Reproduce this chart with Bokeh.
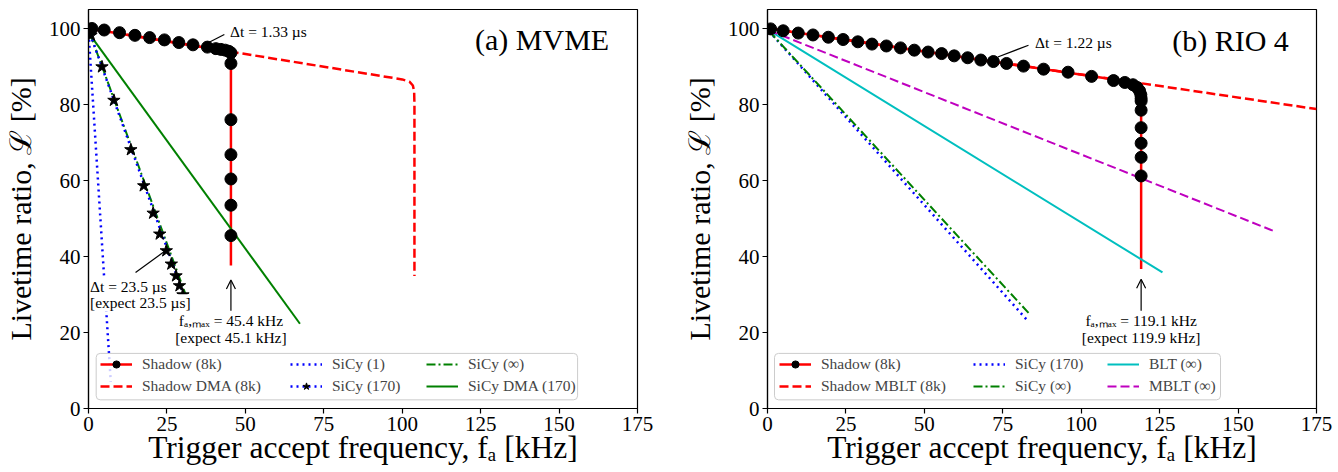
from bokeh.plotting import figure
from bokeh.layouts import row
from bokeh.models import (Legend, LegendItem, Label, Arrow, OpenHead, Range1d,
                          FixedTicker, BoxAnnotation)
from bokeh.embed import file_html
from bokeh.resources import INLINE

FONT = "Liberation Serif"

# ---------------- Panel (a) MVME ----------------
a_shadow_x = [1.1, 5.0, 9.9, 14.8, 19.5, 24.2, 28.8, 33.3, 37.9, 40.6, 42.2, 43.6,
              44.7, 45.4, 45.4, 45.4, 45.4, 45.4, 45.4, 45.4]
a_shadow_y = [100.0, 99.6, 98.9, 98.2, 97.6, 97.0, 96.3, 95.7, 95.1, 94.7, 94.5, 94.3,
              94.0, 93.6, 90.8, 76.0, 66.8, 60.4, 53.5, 45.5]
a_shadow_line_x = [0.0, 45.4, 45.4]
a_shadow_line_y = [100.0, 93.9, 37.6]
a_dma_x = [0.0, 45.4, 100.0, 102.3, 103.4, 103.8, 103.9, 103.9]
a_dma_y = [100.0, 93.9, 86.6, 86.0, 85.0, 83.5, 80.0, 34.9]
a_sicy1_x = [0.05, 7.1]
a_sicy1_y = [98.6, 7.0]
a_sicy170_x = [0.5, 31.5]
a_sicy170_y = [98.6, 27.3]
a_sicy170_star_x = [0.8, 4.3, 8.1, 13.5, 17.6, 20.6, 22.7, 24.8, 26.4, 27.9, 29.0, 30.1]
a_sicy170_star_y = [98.2, 89.9, 81.1, 68.1, 58.6, 51.4, 45.9, 41.5, 38.0, 34.9, 32.3, 29.9]
a_sicyinf_x = [0.5, 32.1]
a_sicyinf_y = [98.6, 27.4]
a_sicydma_x = [0.5, 67.4]
a_sicydma_y = [98.3, 22.3]

# ---------------- Panel (b) RIO 4 ----------------
b_shadow_x = [1.0, 5.0, 9.8, 14.5, 19.4, 24.1, 28.8, 33.3, 37.9, 42.4, 46.8, 51.2,
              55.5, 59.5, 63.8, 68.0, 72.0, 76.2, 81.6, 88.0, 95.8, 103.3, 110.3,
              113.9, 116.5, 117.8, 118.6, 119.0, 119.1, 119.1, 119.1, 119.1, 119.1,
              119.1, 119.1]
b_shadow_y = [99.9, 99.4, 98.8, 98.3, 97.7, 97.1, 96.5, 95.9, 95.4, 94.9, 94.3, 93.8,
              93.4, 92.8, 92.3, 91.7, 91.3, 90.8, 90.1, 89.3, 88.5, 87.4, 86.3,
              85.8, 85.2, 84.5, 83.6, 82.6, 81.6, 80.9, 78.5, 73.9, 69.8,
              66.1, 61.2]
b_shadow_line_x = [0.5, 119.1, 119.1]
b_shadow_line_y = [100.0, 85.5, 36.7]
b_mblt8k_x = [0.5, 175.0]
b_mblt8k_y = [100.0, 78.8]
b_sicy170_x = [0.5, 82.5]
b_sicy170_y = [99.3, 23.5]
b_sicyinf_x = [0.5, 83.6]
b_sicyinf_y = [99.3, 24.8]
b_blt_x = [0.5, 125.9]
b_blt_y = [99.5, 35.8]
b_mblt_x = [0.5, 162.0]
b_mblt_y = [99.5, 46.5]

x_ticks = [0, 25, 50, 75, 100, 125, 150, 175]
y_ticks = [0, 20, 40, 60, 80, 100]


def make_fig(border_right, border_left=88):
    p = figure(width=border_left + 549 + border_right, height=471,
               x_range=Range1d(0, 175), y_range=Range1d(0, 105),
               output_backend="svg", toolbar_location=None,
               min_border_left=border_left, min_border_right=border_right,
               min_border_top=9, min_border_bottom=63)
    p.xgrid.grid_line_color = None
    p.ygrid.grid_line_color = None
    p.outline_line_color = "black"
    p.outline_line_width = 1.2
    p.outline_line_alpha = 1.0
    p.xaxis.ticker = FixedTicker(ticks=x_ticks)
    p.yaxis.ticker = FixedTicker(ticks=y_ticks)
    for ax in (p.xaxis[0], p.yaxis[0]):
        ax.major_tick_out = 5
        ax.major_tick_in = 0
        ax.minor_tick_out = 0
        ax.minor_tick_in = 0
        ax.axis_line_color = "black"
        ax.axis_line_width = 1.2
        ax.major_tick_line_width = 1.2
        ax.major_label_text_font = FONT
        ax.major_label_text_font_size = "21px"
        ax.major_label_text_color = "black"
        ax.major_label_standoff = 3
        ax.axis_label_text_font = FONT
        ax.axis_label_text_font_style = "normal"
        ax.axis_label_text_color = "black"
    p.xaxis.axis_label_text_font_size = "31.5px"
    p.yaxis.axis_label_text_font_size = "30px"
    p.xaxis.axis_label = "Trigger accept frequency, fₐ [kHz]"
    p.yaxis.axis_label = "Livetime ratio, ℒ [%]"
    p.xaxis.axis_label_standoff = -4
    p.yaxis.axis_label_standoff = 9
    return p


def add_text(p, x, y, text, size="15.5px", align="left", bg=True):
    lab = Label(x=x, y=y, text=text, text_font=FONT, text_font_size=size,
                text_align=align, text_baseline="middle", text_color="black")
    if bg:
        lab.background_fill_color = "white"
        lab.background_fill_alpha = 1.0
    p.add_layout(lab)


def add_legend(p, box, columns):
    """box: (left, right, bottom, top) in data units; columns: list of (x_offset, items)."""
    bx = BoxAnnotation(left=box[0], right=box[1], bottom=box[2], top=box[3],
                       fill_color="white", fill_alpha=0.8,
                       line_color="#cccccc", line_width=1, line_alpha=1.0)
    if "border_radius" in bx.properties():
        bx.border_radius = 4
    p.add_layout(bx)
    for xoff, items in columns:
        lg = Legend(items=items, location=(xoff, 13), orientation="vertical")
        lg.label_text_font = FONT
        lg.label_text_font_size = "15.5px"
        lg.glyph_width = 32
        lg.glyph_height = 18
        lg.label_height = 18
        lg.label_standoff = 10
        lg.spacing = 4
        lg.padding = 0
        lg.margin = 0
        lg.border_line_color = None
        lg.background_fill_alpha = 0.0
        p.add_layout(lg)


RED, BLUE, GREEN, CYAN, MAG = "#ff0000", "#0000ff", "#008000", "#00bfbf", "#bf00bf"

# ---------- Figure (a) ----------
p1 = make_fig(border_right=42)
r_dma = p1.line(a_dma_x, a_dma_y, line_color=RED, line_width=2.5, line_dash="9 4")
r_sl = p1.line(a_shadow_line_x, a_shadow_line_y, line_color=RED, line_width=2.5)
r_s1 = p1.line(a_sicy1_x, a_sicy1_y, line_color=BLUE, line_width=2.5, line_dash="2 4")
r_sdma = p1.line(a_sicydma_x, a_sicydma_y, line_color=GREEN, line_width=2)
r_sinf = p1.line(a_sicyinf_x, a_sicyinf_y, line_color=GREEN, line_width=2,
                 line_dash="9 3 2 3")
r_s170 = p1.line(a_sicy170_x, a_sicy170_y, line_color=BLUE, line_width=2.5,
                 line_dash="2 4")
r_star = p1.scatter(a_sicy170_star_x, a_sicy170_star_y, marker="star", size=13,
                    fill_color="black", line_color="black")
r_dot = p1.scatter(a_shadow_x, a_shadow_y, marker="circle", size=12,
                   fill_color="black", line_color="black")

add_legend(p1, (2.45, 155.9, 2.28, 14.5), [
    (12, [LegendItem(label="Shadow (8k)", renderers=[r_sl, r_dot]),
          LegendItem(label="Shadow DMA (8k)", renderers=[r_dma])]),
    (202, [LegendItem(label="SiCy (1)", renderers=[r_s1]),
           LegendItem(label="SiCy (170)", renderers=[r_s170, r_star])]),
    (338, [LegendItem(label="SiCy (∞)", renderers=[r_sinf]),
           LegendItem(label="SiCy DMA (170)", renderers=[r_sdma])]),
])

p1.add_layout(Arrow(end=None, x_start=36.6, y_start=95.6, x_end=43.3, y_end=98.4,
                    line_color="black", line_width=1.2))
add_text(p1, 45.1, 99.3, "Δt = 1.33 µs", bg=False)
p1.add_layout(Arrow(end=None, x_start=15.0, y_start=35.8, x_end=24.5, y_end=41.5,
                    line_color="black", line_width=1.2))
add_text(p1, 0.5, 32.0, "Δt = 23.5 µs")
add_text(p1, 0.5, 27.8, "[expect 23.5 µs]")
p1.add_layout(Arrow(end=OpenHead(size=9, line_width=1.2, line_color="black"),
                    x_start=45.4, y_start=25.7, x_end=45.4, y_end=33.8,
                    line_color="black", line_width=1.2))
add_text(p1, 45.4, 23.1, "fₐ,ₘₐₓ = 45.4 kHz", align="center")
add_text(p1, 45.4, 18.6, "[expect 45.1 kHz]", align="center")
add_text(p1, 123.2, 97.1, "(a) MVME", size="30px", bg=False)

# ---------- Figure (b) ----------
p2 = make_fig(border_right=20)
r_mb8 = p2.line(b_mblt8k_x, b_mblt8k_y, line_color=RED, line_width=2.5, line_dash="9 4")
r_bl = p2.line(b_shadow_line_x, b_shadow_line_y, line_color=RED, line_width=2.5)
r_bs170 = p2.line(b_sicy170_x, b_sicy170_y, line_color=BLUE, line_width=2.5,
                  line_dash="2 4")
r_binf = p2.line(b_sicyinf_x, b_sicyinf_y, line_color=GREEN, line_width=2,
                 line_dash="9 3 2 3")
r_blt = p2.line(b_blt_x, b_blt_y, line_color=CYAN, line_width=2)
r_mblt = p2.line(b_mblt_x, b_mblt_y, line_color=MAG, line_width=2, line_dash="9 4")
r_bdot = p2.scatter(b_shadow_x, b_shadow_y, marker="circle", size=12,
                    fill_color="black", line_color="black")

add_legend(p2, (2.23, 144.4, 2.28, 14.5), [
    (12, [LegendItem(label="Shadow (8k)", renderers=[r_bl, r_bdot]),
          LegendItem(label="Shadow MBLT (8k)", renderers=[r_mb8])]),
    (206, [LegendItem(label="SiCy (170)", renderers=[r_bs170]),
           LegendItem(label="SiCy (∞)", renderers=[r_binf])]),
    (340, [LegendItem(label="BLT (∞)", renderers=[r_blt]),
           LegendItem(label="MBLT (∞)", renderers=[r_mblt])]),
])

p2.add_layout(Arrow(end=None, x_start=73.4, y_start=92.5, x_end=83.2, y_end=95.6,
                    line_color="black", line_width=1.2))
add_text(p2, 85.3, 96.2, "Δt = 1.22 µs", bg=False)
p2.add_layout(Arrow(end=OpenHead(size=9, line_width=1.2, line_color="black"),
                    x_start=119.1, y_start=25.7, x_end=119.1, y_end=34.0,
                    line_color="black", line_width=1.2))
add_text(p2, 119.1, 23.1, "fₐ,ₘₐₓ = 119.1 kHz", align="center")
add_text(p2, 119.1, 18.6, "[expect 119.9 kHz]", align="center")
add_text(p2, 129.0, 96.9, "(b) RIO 4", size="30px", bg=False)

layout = row(p1, p2)
open("out.html", "w").write(file_html(layout, INLINE))
